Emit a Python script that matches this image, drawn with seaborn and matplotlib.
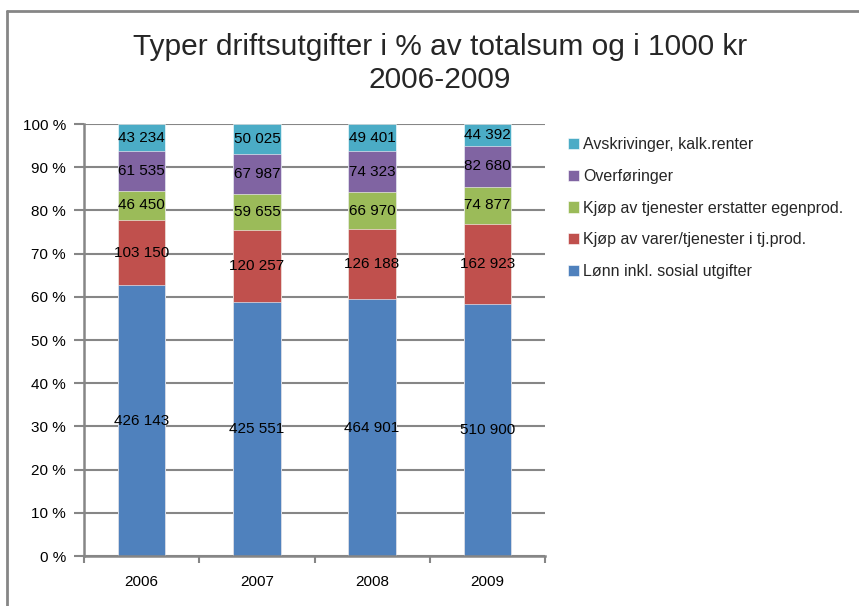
import numpy as np
import pandas as pd
import matplotlib
matplotlib.use("Agg")
import matplotlib.pyplot as plt
from matplotlib.lines import Line2D
from matplotlib.ticker import FixedLocator
import seaborn as sns

# data (1000 kr)
years = ["2006", "2007", "2008", "2009"]
lonn = [426143, 425551, 464901, 510900]
kjop_varer = [103150, 120257, 126188, 162923]
kjop_tjen = [46450, 59655, 66970, 74877]
overforinger = [61535, 67987, 74323, 82680]
avskrivinger = [43234, 50025, 49401, 44392]

series_names = ["Lønn inkl. sosial utgifter",
                "Kjøp av varer/tjenester i tj.prod.",
                "Kjøp av tjenester erstatter egenprod.",
                "Overføringer",
                "Avskrivinger, kalk.renter"]
colors = ["#4F81BD", "#C0504D", "#9BBB59", "#8064A2", "#4BACC6"]

df = pd.DataFrame({"year": years,
                   series_names[0]: lonn,
                   series_names[1]: kjop_varer,
                   series_names[2]: kjop_tjen,
                   series_names[3]: overforinger,
                   series_names[4]: avskrivinger})
vals = df[series_names]
pct = vals.div(vals.sum(axis=1), axis=0) * 100
cum = pct.cumsum(axis=1)

sns.set_style("white")
plt.rcParams["font.family"] = ["Liberation Sans", "DejaVu Sans"]

fig = plt.figure(figsize=(8.59, 6.06), dpi=100)
ax = fig.add_axes([84 / 859, 1 - 556 / 606, (545 - 84) / 859, (556 - 124) / 606])

grey = "#868686"
ax.set_axisbelow(True)
ax.yaxis.grid(True, color=grey, linewidth=1.5)

# stacked bars: draw cumulative totals from top layer down
for i in range(len(series_names) - 1, -1, -1):
    sns.barplot(x=df["year"], y=cum.iloc[:, i], color=colors[i], width=0.41,
                edgecolor="white", linewidth=0.4, ax=ax, label=series_names[i],
                saturation=1)

# data labels
for j in range(len(years)):
    for i, name in enumerate(series_names):
        mid = cum.iloc[j, i] - pct.iloc[j, i] / 2
        txt = f"{vals.iloc[j, i]:,}".replace(",", " ")
        ax.text(j, mid, txt, ha="center", va="center", fontsize=11, color="black")

ax.set_xlim(-0.5, 3.5)
ax.set_ylim(0, 100)
ax.set_yticks(range(0, 101, 10))
ax.set_yticklabels([f"{v} %" for v in range(0, 101, 10)])
ax.set_xlabel("")
ax.set_ylabel("")
ax.xaxis.set_minor_locator(FixedLocator([-0.5, 0.5, 1.5, 2.5, 3.5]))
ax.tick_params(axis="x", which="major", length=0, pad=14, labelsize=11, colors="black")
ax.tick_params(axis="x", which="minor", length=5, width=1.5, color=grey, direction="out")
ax.tick_params(axis="y", which="major", length=7, width=1.5, color=grey,
               direction="out", pad=6, labelsize=11, labelcolor="black")
ax.tick_params(axis="y", left=True)
ax.tick_params(axis="x", which="minor", bottom=True)

for s in ["top", "right"]:
    ax.spines[s].set_visible(False)
for s in ["left", "bottom"]:
    ax.spines[s].set_color(grey)
    ax.spines[s].set_linewidth(1.8)

fig.text(0.512, 1 - 47 / 606, "Typer driftsutgifter i % av totalsum og i 1000 kr",
         ha="center", va="center", fontsize=21.5)
fig.text(0.512, 1 - 80 / 606, "2006-2009", ha="center", va="center", fontsize=21.5)

handles, labels = ax.get_legend_handles_labels()
ax.legend(handles, labels, loc="upper left", bbox_to_anchor=(568 / 859, 1 - 137 / 606),
          bbox_transform=fig.transFigure, frameon=False, fontsize=11.5,
          handlelength=0.7, handleheight=0.7, handletextpad=0.25, labelspacing=1.05,
          borderaxespad=0, borderpad=0)

# chart border
by = 1 - 11 / 606
bx = 7 / 859
fig.add_artist(Line2D([bx, bx], [0, by], transform=fig.transFigure, color=grey, linewidth=2))
fig.add_artist(Line2D([bx, 1], [by, by], transform=fig.transFigure, color=grey, linewidth=2))

fig.savefig("out.png", dpi=100)
